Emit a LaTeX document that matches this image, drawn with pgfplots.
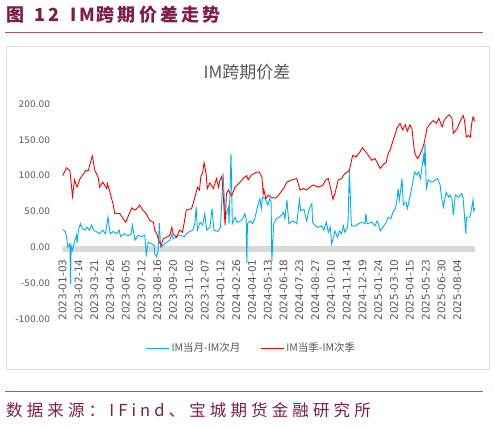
\documentclass[border=0pt]{standalone}
\usepackage{fontspec}
\setmainfont{DejaVu Sans}
\newfontfamily\cjk{Noto Sans CJK SC}
\newfontfamily\cjkt[LetterSpace=18]{Noto Sans CJK SC}
\newfontfamily\cjks[LetterSpace=25]{Noto Sans CJK SC}
\usepackage{pgfplots}
\pgfplotsset{compat=1.18}
\definecolor{maroon}{HTML}{7F1D48}
\definecolor{maroonline}{HTML}{A8557A}
\definecolor{txtgray}{HTML}{595959}
\definecolor{bandgray}{HTML}{D9D9D9}
\definecolor{boxgray}{HTML}{E0E0E0}
\definecolor{lblue}{HTML}{00B0F0}
\definecolor{lred}{HTML}{FF0000}
\begin{document}
\begin{tikzpicture}[x=1pt,y=1pt]
\path[use as bounding box] (0,0) rectangle (495,426);
\node[anchor=west, inner sep=0pt, text=maroon, font=\cjkt\bfseries\fontsize{18}{20}\selectfont] at (6,411) {图\hspace{10pt}12\hspace{11pt}IM\hspace{1pt}跨期价差走势};
\draw[maroonline, line width=1.5pt] (5,393.7) -- (483,393.7);
\draw[boxgray, line width=1pt] (6,57) rectangle (489,379);
\node[text=txtgray, font=\cjk\fontsize{17}{19}\selectfont] at (247,354) {IM跨期价差};
\begin{axis}[
  at={(62.33pt,107pt)}, anchor=south west,
  scale only axis, width=413pt, height=215pt,
  xmin=-0.5, xmax=627.5, ymin=-100, ymax=200,
  axis x line=middle, axis y line=left,
  x axis line style={draw=none}, y axis line style={draw=none},
  hide obscured x ticks=false,
  major tick length=0pt,
  /pgf/number format/assume math mode=true,
  ytick={-100,-50,0,50,100,150,200},
  yticklabel style={font=\fontsize{9}{10}\selectfont, text=txtgray, anchor=east, inner xsep=12pt, inner ysep=0pt,
    /pgf/number format/fixed, /pgf/number format/fixed zerofill, /pgf/number format/precision=2},
  xtick={0,24,...,600},
  xticklabels={2023-01-03,2023-02-14,2023-03-21,2023-04-26,2023-06-05,2023-07-12,2023-08-16,2023-09-20,2023-11-02,2023-12-07,2024-01-12,2024-02-26,2024-04-01,2024-05-13,2024-06-18,2024-07-23,2024-08-27,2024-10-10,2024-11-14,2024-12-19,2025-01-24,2025-03-10,2025-04-15,2025-05-23,2025-06-30,2025-08-04},
  xticklabel style={font=\fontsize{10.5}{12}\selectfont, text=txtgray, rotate=90, anchor=east, inner xsep=12pt, inner ysep=0pt},
  legend style={at={(0.458,-0.135)}, anchor=center, draw=none, fill=none, legend columns=2,
    font=\cjk\fontsize{10.5}{12}\selectfont, text=txtgray,
    /tikz/every even column/.append style={column sep=18pt}},
  legend image code/.code={\draw[#1] (0pt,0pt) -- (23pt,0pt);},
]
\draw[bandgray, line width=5.5pt] (axis cs:-0.5,-2.1) -- (axis cs:627.5,-2.1);
\addplot[lblue, line width=0.9pt] coordinates {
(0,25)(4,22)(6,14)(8,0)(11,5)(12,-51)(13,2)(15,-4)(18,7.5)(21,17)(22,6)(24,24)(27,33)(30,26)(34,24)(37,28)(41,24)(44,31)(47,24)(51,22)(56,19)(61,24)(65,19)(69,42)(72,19)(77,22)(82,19)(86,24)(88,15)(94,19)(99,16)(104,19)(106,31)(110,10)(115,17)(120,15)(125,17)(127,-11)(130,7)(135,5)(139,3)(140,-9)(143,-13)(145,-5)(147,34)(149,0)(153,3)(158,7)(163,10)(166,19)(168,12)(173,15)(178,17)(185,15)(188,19)(193,22)(198,24)(201,33)(203,56)(205,24)(209,35)(213,31)(216,47)(219,24)(224,28)(227,54)(230,24)(236,22)(240,28)(244,103)(247,42)(252,56)(253,33)(256,131)(258,33)(262,42)(265,35)(271,37)(275,42)(277,47)(279,40)(280,-22)(281,33)(285,37)(289,33)(292,40)(297,59)(300,68)(302,54)(304,70)(308,68)(312,59)(315,68)(317,63)(318,-20)(321,33)(325,40)(329,42)(333,45)(336,49)(338,40)(341,66)(344,33)(349,37)(354,35)(356,33)(360,66)(362,51)(367,53)(371,37)(375,53)(379,61)(380,35)(384,30)(389,28)(394,30)(397,24)(401,35)(404,21)(407,28)(409,5)(412,14)(414,23)(418,14)(421,23)(424,19)(427,30)(429,21)(433,28)(434,37)(436,107.5)(439,30)(445,30)(450,33)(455,35)(460,33)(461,47)(463,33)(470,35)(475,30)(478,37)(480,33)(483,23)(487,28)(492,35)(495,42)(499,40)(503,51)(506,54)(509,70)(510,82)(512,66)(516,96)(518,59)(522,63)(524,54)(528,70)(531,84)(533,94)(535,105)(538,101)(541,105)(544,96)(546,110)(549,128.5)(550,115)(551,145)(553,82)(556,94)(561,91)(567,94)(570,96)(574,87)(576,70)(579,56)(583,77)(587,70)(589,73)(592,68)(594,45)(597,73)(602,70)(607,75)(609,68)(613,19)(614,42)(619,42)(622,55)(624,66)(625,51)(627,55)
};
\addplot[lred, line width=0.9pt] coordinates {
(0,100)(6,111)(11,107)(15,71)(18,94)(22,84)(26,95)(35,107)(39,107)(45,127.6)(49,107)(54,98)(56,84)(61,91)(67,82)(68,89)(71,80)(77,59)(79,47.5)(87,47)(92,40)(96,35)(99,42)(105,55)(110,52)(115,56)(117,59)(122,52)(127,47)(132,38)(138,35)(140,24)(143,19)(147,7.5)(150,3)(153,12)(158,14)(163,17)(166,28)(168,19)(173,14)(178,24)(182,21)(185,35)(188,52)(196,54)(200,66)(205,84)(208,80)(210,98)(213,105)(215,118)(218,103)(220,82)(224,90)(229,82)(234,96)(237,84)(239,93)(242,99)(244,75)(247,31)(249,75)(252,80)(257,72)(262,84)(270,91)(275,97)(280,100)(282,94)(287,101)(295,105)(299,105)(303,98)(305,75)(306,80)(309,68)(313,73)(318,69)(325,69)(330,75)(336,82)(341,91)(348,94)(356,96)(361,80)(366,82)(371,80)(376,84)(381,87)(389,84)(396,87)(400,94)(404,96)(408,80)(411,67)(414,75)(419,94)(424,96)(429,103)(433,105)(436,107.5)(441,128.5)(446,126)(452,133)(456,139)(461,133)(465,128)(470,121.5)(475,124)(479,117)(483,110)(487,115)(492,119)(495,131)(498,136)(501,145)(506,159)(508,166)(513,173)(517,164)(521,171)(524,162)(528,171)(531,166)(533,149.5)(535,133)(538,126)(540,124)(544,131)(548,140)(550,147)(554,166)(559,173)(564,177)(568,173)(572,180)(577,168)(580,177)(584,182)(588,185)(592,180)(594,159)(600,166)(605,177)(609,184)(611,177)(614,154)(617,156)(620,154)(622,173)(624,182)(627,176)
};
\legend{IM当月-IM次月,IM当季-IM次季}
\end{axis}
\draw[maroonline, line width=1.2pt] (5,34.3) -- (483,34.3);
\node[anchor=west, inner sep=0pt, text=maroon, font=\cjks\fontsize{16.5}{19}\selectfont] at (6,16) {数据来源：IFind、宝城期货金融研究所};
\end{tikzpicture}
\end{document}
